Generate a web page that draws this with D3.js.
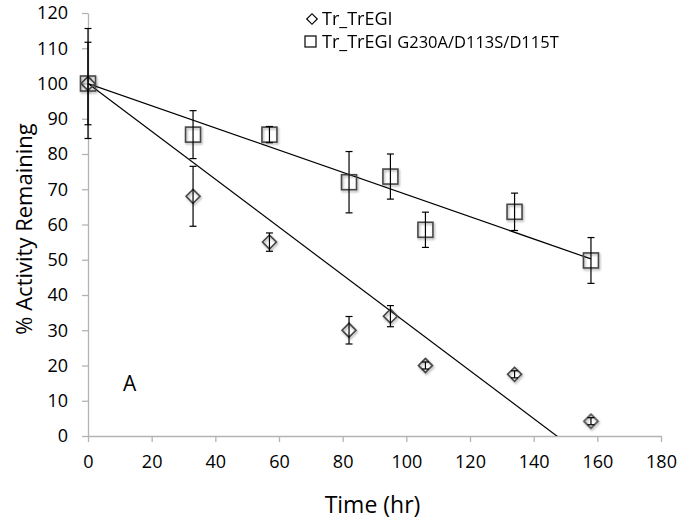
<!DOCTYPE html>
<html>
<head>
<meta charset="utf-8">
<script src="https://cdn.jsdelivr.net/npm/d3@7"></script>
<style>
  body { margin: 0; background: #fff; }
  svg { display: block; }
</style>
</head>
<body>
<div id="chart"></div>
<script>
// Data
//////////////////////////////////////////////////////////////////////
const times = [0, 33, 57, 82, 95, 106, 134, 158];
const wtValues = [100, 68, 55, 30, 34, 20, 17.5, 4.2];
const wtErrors = [15.6, 8.5, 2.6, 3.9, 3, 1, 1, 1];
const mutValues = [100, 85.5, 85.5, 72, 73.6, 58.5, 63.6, 49.8];
const mutErrors = [11.7, 6.8, 2.3, 8.7, 6.4, 5, 5.3, 6.5];
// linear trend lines: [intercept, slope]
const wtTrend = [100, -0.679];
const mutTrend = [100, -0.315];
const xTicks = [0, 20, 40, 60, 80, 100, 120, 140, 160, 180];
const yTicks = [0, 10, 20, 30, 40, 50, 60, 70, 80, 90, 100, 110, 120];
const seriesNames = ["Tr_TrEGI", "Tr_TrEGI "];
const mutSuffix = "G230A/D113S/D115T";

// Layout
//////////////////////////////////////////////////////////////////////
const width = 680, height = 523;
const margin = { top: 13, right: 19, bottom: 87, left: 88 };
const fontFamily = '"Open Sans", sans-serif';
const axisColor = "#b3b3b3";
const markerColor = "#474747";

const svg = d3.select("#chart").append("svg")
  .attr("width", width)
  .attr("height", height)
  .attr("font-family", fontFamily);

const defs = svg.append("defs");
defs.append("filter").attr("id", "shadow")
  .attr("x", "-50%").attr("y", "-50%").attr("width", "200%").attr("height", "200%")
  .append("feDropShadow")
  .attr("dx", 1).attr("dy", 1.5).attr("stdDeviation", 1)
  .attr("flood-color", "#000").attr("flood-opacity", 0.35);
defs.append("clipPath").attr("id", "plotClip")
  .append("rect")
  .attr("x", margin.left).attr("y", margin.top)
  .attr("width", width - margin.left - margin.right)
  .attr("height", height - margin.top - margin.bottom);

const x = d3.scaleLinear().domain([0, 180]).range([margin.left, width - margin.right]);
const y = d3.scaleLinear().domain([0, 120]).range([height - margin.bottom, margin.top]);

// Axes
//////////////////////////////////////////////////////////////////////
const xAxis = svg.append("g")
  .attr("transform", `translate(0,${y(0)})`)
  .call(d3.axisBottom(x).tickValues(xTicks).tickSize(6).tickSizeOuter(0).tickPadding(13));
const yAxis = svg.append("g")
  .attr("transform", `translate(${x(0)},0)`)
  .call(d3.axisLeft(y).tickValues(yTicks).tickSize(6).tickSizeOuter(0).tickPadding(14));
[xAxis, yAxis].forEach(g => {
  g.attr("font-family", fontFamily).attr("font-size", 18);
  g.select(".domain").attr("stroke", axisColor).attr("stroke-width", 1.3);
  g.selectAll(".tick line").attr("stroke", axisColor).attr("stroke-width", 1.3);
  g.selectAll(".tick text").attr("fill", "#000");
});

// Axis titles
svg.append("text")
  .attr("x", (x(0) + x(180)) / 2 - 2)
  .attr("y", 513)
  .attr("text-anchor", "middle")
  .attr("font-size", 23)
  .text("Time (hr)");
svg.append("text")
  .attr("transform", `translate(32,${229}) rotate(-90)`)
  .attr("text-anchor", "middle")
  .attr("font-size", 22)
  .text("% Activity Remaining");

// Panel letter
svg.append("text")
  .attr("x", 123)
  .attr("y", 391)
  .attr("font-size", 21)
  .text("A");

// Trend lines
//////////////////////////////////////////////////////////////////////
const trendG = svg.append("g").attr("clip-path", "url(#plotClip)")
  .attr("stroke", "#000").attr("stroke-width", 1.2).attr("fill", "none");
[wtTrend, mutTrend].forEach(([b, m]) => {
  const x0 = times[0], x1 = times[times.length - 1];
  trendG.append("line")
    .attr("x1", x(x0)).attr("y1", y(b + m * x0))
    .attr("x2", x(x1)).attr("y2", y(b + m * x1));
});

// Markers
//////////////////////////////////////////////////////////////////////
const wtData = times.map((t, i) => ({ t, v: wtValues[i], e: wtErrors[i] }));
const mutData = times.map((t, i) => ({ t, v: mutValues[i], e: mutErrors[i] }));

const diamond = d3.symbol().type(d3.symbolSquare).size(98);
svg.append("g")
  .attr("fill", "none").attr("stroke", markerColor).attr("stroke-width", 1.6)
  .attr("filter", "url(#shadow)")
  .selectAll("path")
  .data(wtData)
  .join("path")
  .attr("d", diamond)
  .attr("transform", d => `translate(${x(d.t)},${y(d.v)}) rotate(45)`);

svg.append("g")
  .attr("fill", "none").attr("stroke", markerColor).attr("stroke-width", 1.6)
  .attr("filter", "url(#shadow)")
  .selectAll("rect")
  .data(mutData)
  .join("rect")
  .attr("x", d => x(d.t) - 7.5)
  .attr("y", d => y(d.v) - 7.5)
  .attr("width", 15)
  .attr("height", 15);

// Error bars
//////////////////////////////////////////////////////////////////////
const cap = 3.5;
const errG = svg.append("g").attr("stroke", "#000").attr("stroke-width", 1.2);
[wtData, mutData].forEach(data => {
  const g = errG.append("g").selectAll("g").data(data).join("g");
  g.append("line")
    .attr("x1", d => x(d.t)).attr("x2", d => x(d.t))
    .attr("y1", d => y(d.v - d.e)).attr("y2", d => y(d.v + d.e));
  g.append("line")
    .attr("x1", d => x(d.t) - cap).attr("x2", d => x(d.t) + cap)
    .attr("y1", d => y(d.v + d.e)).attr("y2", d => y(d.v + d.e));
  g.append("line")
    .attr("x1", d => x(d.t) - cap).attr("x2", d => x(d.t) + cap)
    .attr("y1", d => y(d.v - d.e)).attr("y2", d => y(d.v - d.e));
});

// Legend
//////////////////////////////////////////////////////////////////////
const legend = svg.append("g").attr("font-size", 18);
legend.append("path")
  .attr("d", d3.symbol().type(d3.symbolSquare).size(55))
  .attr("transform", "translate(312,19) rotate(45)")
  .attr("fill", "none").attr("stroke", "#000").attr("stroke-width", 1.2);
legend.append("text").attr("x", 322).attr("y", 25).text(seriesNames[0]);
legend.append("rect")
  .attr("x", 305).attr("y", 36).attr("width", 11).attr("height", 11)
  .attr("fill", "none").attr("stroke", "#000").attr("stroke-width", 1.2);
const t2 = legend.append("text").attr("x", 322).attr("y", 48);
t2.append("tspan").text(seriesNames[1]);
t2.append("tspan").attr("font-size", 16.5).text(mutSuffix);
</script>
</body>
</html>
